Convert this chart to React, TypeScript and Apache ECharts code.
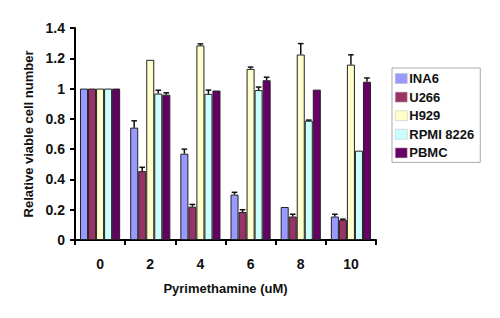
import React, { useEffect, useRef } from "react";
import * as echarts from "echarts";

const categories = ["0", "2", "4", "6", "8", "10"];
const seriesNames = ["INA6", "U266", "H929", "RPMI 8226", "PBMC"];
const colors = ["#9999FF", "#993366", "#FFFFCC", "#CCFFFF", "#660066"];

const ina6 = [1, 0.742, 0.57, 0.3, 0.218, 0.155];
const ina6Err = [0, 0.045, 0.03, 0.015, 0, 0.015];
const u266 = [1, 0.455, 0.22, 0.185, 0.155, 0.133];
const u266Err = [0, 0.025, 0.015, 0.015, 0.015, 0.005];
const h929 = [1, 1.19, 1.285, 1.13, 1.225, 1.158];
const h929Err = [0, 0, 0.01, 0.012, 0.072, 0.065];
const rpmi = [1, 0.967, 0.965, 0.99, 0.788, 0.59];
const rpmiErr = [0, 0.022, 0.025, 0.02, 0.004, 0];
const pbmc = [1, 0.96, 0.987, 1.055, 0.993, 1.045];
const pbmcErr = [0, 0.012, 0, 0.02, 0, 0.025];

const yTicks = [0, 0.2, 0.4, 0.6, 0.8, 1, 1.2, 1.4];

const values = [ina6, u266, h929, rpmi, pbmc];
const errors = [ina6Err, u266Err, h929Err, rpmiErr, pbmcErr];

const FONT = "'Liberation Sans', Arial, sans-serif";

export default function App() {
  const ref = useRef<HTMLDivElement>(null);
  useEffect(() => {
    if (!ref.current) return;
    const chart = echarts.init(ref.current, null, { renderer: "svg" });
    const nSeries = values.length;
    const barSeries = values.map((v, i) => ({
      name: seriesNames[i],
      type: "bar",
      data: v,
      barGap: "0%",
      barCategoryGap: "20%",
      itemStyle: { color: colors[i], borderColor: "#222", borderWidth: 1 },
      z: 2,
    }));
    const errSeries = values.map((v, i) => ({
      name: seriesNames[i] + "-err",
      type: "custom",
      data: v.map((val, j) => [j, val, errors[i][j]]),
      z: 3,
      renderItem: (params: any, api: any) => {
        const x = api.value(0);
        const val = api.value(1);
        const err = api.value(2);
        if (!err) return null;
        const band = api.size([1, 0])[0];
        const bw = (band * 0.8) / nSeries;
        const center = api.coord([x, val]);
        const cx = center[0] + (i - (nSeries - 1) / 2) * bw;
        const top = api.coord([x, val + err])[1];
        const half = bw * 0.35;
        const style = { stroke: "#111", lineWidth: 1.5 };
        return {
          type: "group",
          children: [
            { type: "line", shape: { x1: cx, y1: center[1], x2: cx, y2: top }, style },
            { type: "line", shape: { x1: cx - half, y1: top, x2: cx + half, y2: top }, style },
          ],
        };
      },
      silent: true,
    }));
    chart.setOption({
      animation: false,
      backgroundColor: "#ffffff",
      textStyle: { fontFamily: FONT },
      grid: { left: 75, right: 124, top: 28, bottom: 78 },
      legend: {
        data: seriesNames,
        orient: "vertical",
        left: 392,
        top: 68,
        itemWidth: 12,
        itemHeight: 10,
        itemGap: 5.6,
        padding: [4, 6, 3, 3],
        borderColor: "#aaa",
        borderWidth: 1,
        icon: "rect",
        itemStyle: { borderColor: "#bbb", borderWidth: 0.5 },
        textStyle: { fontFamily: FONT, fontWeight: "bold", fontSize: 13, color: "#111", padding: [0, 0, 0, -3] },
      },
      xAxis: {
        type: "category",
        data: categories,
        name: "Pyrimethamine (uM)",
        nameLocation: "middle",
        nameGap: 42,
        nameTextStyle: { fontFamily: FONT, fontWeight: "bold", fontSize: 13, color: "#111" },
        axisLine: { lineStyle: { color: "#000", width: 2 } },
        axisTick: { show: true, length: 5, lineStyle: { color: "#000", width: 2 } },
        axisLabel: { fontFamily: FONT, fontWeight: "bold", fontSize: 14, color: "#111", margin: 17 },
      },
      yAxis: {
        type: "value",
        min: yTicks[0],
        max: yTicks[yTicks.length - 1],
        interval: 0.2,
        name: "Relative viable cell number",
        nameLocation: "middle",
        nameGap: 40,
        nameTextStyle: { fontFamily: FONT, fontWeight: "bold", fontSize: 13, color: "#111" },
        splitLine: { show: false },
        axisLine: { show: true, lineStyle: { color: "#000", width: 2 } },
        axisTick: { show: true, length: 5, lineStyle: { color: "#000", width: 2 } },
        axisLabel: { fontFamily: FONT, fontWeight: "bold", fontSize: 14, color: "#111", margin: 10 },
      },
      series: [...barSeries, ...errSeries],
    });
    return () => chart.dispose();
  }, []);
  return (
    <div
      ref={ref}
      style={{ position: "fixed", left: 0, top: 0, width: 500, height: 318, background: "#fff" }}
    />
  );
}
